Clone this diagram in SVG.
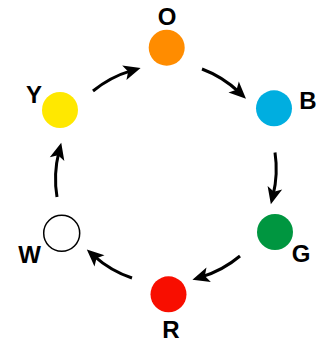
<svg xmlns="http://www.w3.org/2000/svg" width="324" height="342" viewBox="0 0 324 342">
<style>
.lbl{font-family:"Liberation Sans",Arial,sans-serif;font-weight:bold;font-size:24px;fill:#000;text-anchor:middle}
.edge{fill:none;stroke:#000;stroke-width:3;marker-end:url(#ah)}
</style>
<defs>
<marker id="ah" markerUnits="userSpaceOnUse" markerWidth="20" markerHeight="20" refX="0" refY="0" orient="auto" overflow="visible">
<path d="M-7.5,-7.5 L9.5,0 L-7.5,7.5 L-3.5,0 z" fill="#000"/>
</marker>
</defs>
<rect width="324" height="342" fill="#fff"/>
<g id="connectors">
<path class="edge" d="M93,91 A110,110 0 0,1 131.5,70.6"/>
<path class="edge" d="M202,69 A110,110 0 0,1 239.1,92.2"/>
<path class="edge" d="M275,152.5 A110,110 0 0,1 273.1,195.1"/>
<path class="edge" d="M240,256 A110,110 0 0,1 201.5,276.9"/>
<path class="edge" d="M132,278 A110,110 0 0,1 93.9,255.8"/>
<path class="edge" d="M57,197 A110,110 0 0,1 58.9,151.9"/>
</g>
<g id="node-O"><circle cx="166.7" cy="47.7" r="18" fill="#FF8C00"/><text class="lbl" x="167" y="25">O</text></g>
<g id="node-B"><circle cx="274" cy="108.3" r="18" fill="#00AEE0"/><text class="lbl" x="308" y="108.5">B</text></g>
<g id="node-G"><circle cx="275" cy="232" r="18" fill="#009640"/><text class="lbl" x="301" y="262">G</text></g>
<g id="node-R"><circle cx="168.5" cy="294.3" r="18" fill="#F80E00"/><text class="lbl" x="171" y="338">R</text></g>
<g id="node-W"><circle cx="61.7" cy="233.3" r="18" fill="#fff" stroke="#000" stroke-width="1.5"/><text class="lbl" x="29.5" y="263">W</text></g>
<g id="node-Y"><circle cx="60" cy="110" r="18" fill="#FFE800"/><text class="lbl" x="34" y="103">Y</text></g>
</svg>
